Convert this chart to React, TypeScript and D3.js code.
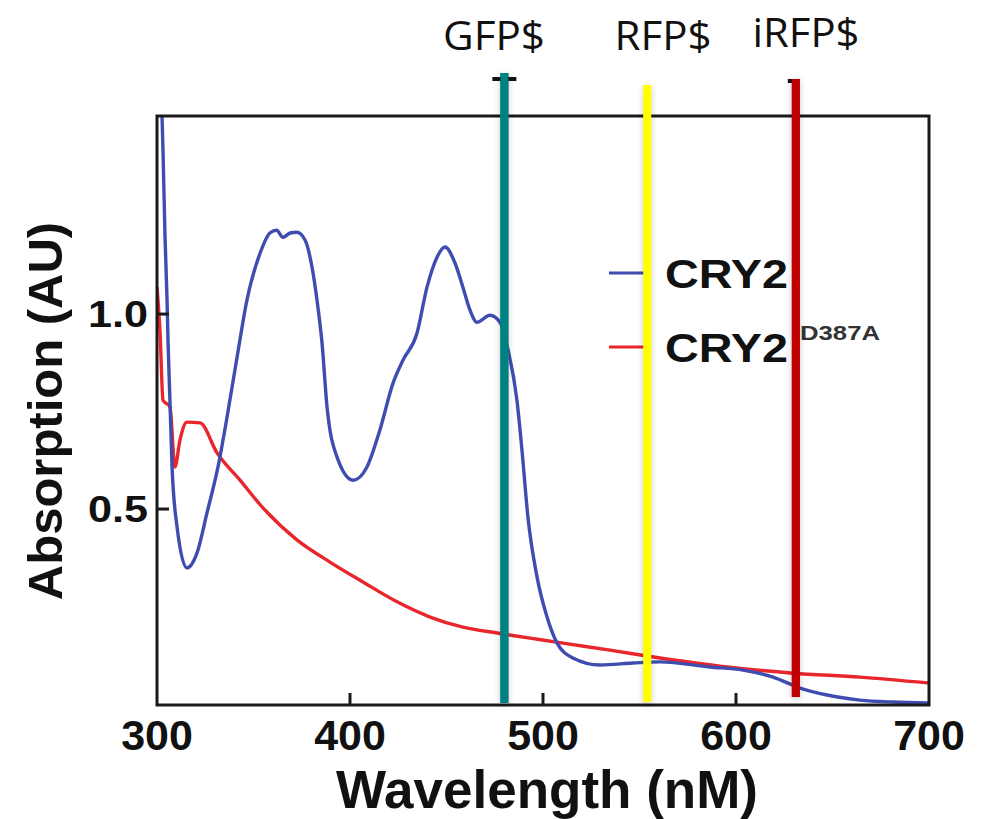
import React from "react";
import * as d3 from "d3";

// Absorption spectrum of CRY2 (wild type)
const cry2Wavelength = [302.6, 303.1, 304.1, 305.2, 305.7, 306.7, 307.8, 310.4, 315.5, 320.7, 325.9, 331.6, 336.3, 341.5, 346.6, 353.4, 358.5, 362, 365.3, 369, 372.5, 376.7, 380.3, 382.9, 385.5, 388.1, 393.3, 401.6, 408.8, 415.5, 422.3, 427.5, 434.7, 439.9, 445.1, 449.2, 454.4, 458.5, 462.2, 465.8, 472.5, 477.7, 481.9, 486.5, 489.1, 492.2, 496.9, 502.1, 507.3, 515.5, 529.5, 546.6, 560.6, 586.5, 603.6, 619.2, 633.2, 647.2, 664.2, 681.3, 699.5];
const cry2Absorption = [1.508, 1.421, 1.208, 1.036, 0.933, 0.779, 0.608, 0.454, 0.349, 0.387, 0.49, 0.608, 0.736, 0.89, 1.036, 1.156, 1.208, 1.215, 1.197, 1.208, 1.21, 1.19, 1.121, 1.036, 0.926, 0.762, 0.633, 0.574, 0.608, 0.703, 0.823, 0.882, 0.951, 1.069, 1.146, 1.172, 1.131, 1.069, 1.01, 0.979, 0.997, 0.979, 0.908, 0.779, 0.651, 0.479, 0.326, 0.223, 0.156, 0.118, 0.1, 0.105, 0.108, 0.095, 0.087, 0.069, 0.041, 0.023, 0.01, 0.005, 0.003];

// Absorption spectrum of the CRY2 D387A mutant
const mutantWavelength = [300, 301.6, 303.1, 306.7, 309.3, 311.9, 315.5, 322.3, 331.1, 343, 354.9, 372.5, 389.6, 406.7, 424.4, 441.5, 458.5, 476.2, 493.3, 510.4, 534.7, 560.6, 595.3, 629.5, 664.2, 699.5];
const mutantAbsorption = [1.069, 0.951, 0.779, 0.762, 0.608, 0.677, 0.723, 0.721, 0.644, 0.574, 0.503, 0.421, 0.364, 0.313, 0.262, 0.223, 0.197, 0.182, 0.169, 0.156, 0.138, 0.118, 0.095, 0.079, 0.069, 0.054];

// Excitation lines of the fluorescent reporters
const reporterNames = ["GFP$", "RFP$", "iRFP$"];
const reporterWavelength = [480, 554, 631];
const reporterColors = ["#008080", "#FFFF00", "#C00000"];

const xTickValues = [300, 400, 500, 600, 700];
const xTickMarks = [400, 500, 600];
const yTickValues = [0.5, 1.0];

const legendNames = ["CRY2", "CRY2"];
const legendSuperscripts = ["", "D387A"];
const seriesColors = ["#3F4DB0", "#E8262C"];

const W = 986;
const H = 819;
const frame = { left: 157, right: 929, top: 116, bottom: 705 };
// vertical extent of each reporter line (top, bottom) and its cap mark width
const reporterStyle = [
  { top: 73, bottom: 703, cap: 24, capY: 77 },
  { top: 85, bottom: 702, cap: 0, capY: 0 },
  { top: 79, bottom: 697, cap: 10, capY: 79 },
];
const labelStyle = [
  { cx: 494, y: 50, len: 102 },
  { cx: 663, y: 50, len: 97 },
  { cx: 806, y: 47, len: 107 },
];

export default function App() {
  const x = d3.scaleLinear().domain([300, 700]).range([frame.left, frame.right]);
  const y = d3.scaleLinear().domain([0, 1.508]).range([704, frame.top]);

  const line = d3
    .line<[number, number]>()
    .x((d) => x(d[0]))
    .y((d) => y(d[1]))
    .curve(d3.curveMonotoneX);

  const cry2 = cry2Wavelength.map((w, i) => [w, cry2Absorption[i]] as [number, number]);
  const mutant = mutantWavelength.map((w, i) => [w, mutantAbsorption[i]] as [number, number]);

  const boldFont = "'Liberation Sans', Arial, sans-serif";

  return (
    <svg width={W} height={H} style={{ position: "absolute", left: 0, top: 0, background: "#fff" }}>
      <defs>
        <filter id="lineShadow" x="-200%" y="-5%" width="500%" height="110%">
          <feDropShadow dx="0" dy="2" stdDeviation="3" floodColor="#000" floodOpacity="0.22" />
        </filter>
        <clipPath id="plotClip">
          <rect x={frame.left} y={frame.top} width={frame.right - frame.left} height={frame.bottom - frame.top} />
        </clipPath>
      </defs>

      {/* spectra */}
      <g clipPath="url(#plotClip)" fill="none" strokeWidth={3.4} strokeLinejoin="round">
        <path d={line(mutant) || ""} stroke={seriesColors[1]} />
        <path d={line(cry2) || ""} stroke={seriesColors[0]} />
      </g>

      {/* frame */}
      <rect
        x={frame.left}
        y={frame.top}
        width={frame.right - frame.left}
        height={frame.bottom - frame.top}
        fill="none"
        stroke="#1a1a1a"
        strokeWidth={3}
      />
      {xTickMarks.map((t) => (
        <line key={t} x1={x(t)} x2={x(t)} y1={frame.bottom} y2={frame.bottom - 12} stroke="#1a1a1a" strokeWidth={3} />
      ))}
      {yTickValues.map((t) => (
        <line key={t} x1={frame.left} x2={frame.left + 12} y1={y(t)} y2={y(t)} stroke="#1a1a1a" strokeWidth={3} />
      ))}

      {/* tick labels */}
      <g fontFamily={boldFont} fontWeight="bold" fill="#111">
        {xTickValues.map((t) => (
          <text key={t} x={x(t)} y={750} fontSize={43} textAnchor="middle">
            {t}
          </text>
        ))}
        {yTickValues.map((t) => (
          <text key={t} x={148} y={y(t) + 13} fontSize={36} textAnchor="end" textLength={60} lengthAdjust="spacingAndGlyphs">
            {t.toFixed(1)}
          </text>
        ))}
        <text x={547} y={808} fontSize={53} textAnchor="middle">
          Wavelength (nM)
        </text>
        <text transform="translate(62,411) rotate(-90)" fontSize={49} textAnchor="middle">
          Absorption (AU)
        </text>
      </g>

      {/* legend */}
      <g fontFamily={boldFont} fontWeight="bold">
        {legendNames.map((name, i) => {
          const ly = i === 0 ? 273 : 347;
          return (
            <g key={i}>
              <line x1={609} x2={646} y1={ly} y2={ly} stroke={seriesColors[i]} strokeWidth={3} />
              <text x={665} y={ly + 15} fontSize={41} fill="#111" textLength={123} lengthAdjust="spacingAndGlyphs">
                {name}
              </text>
              {legendSuperscripts[i] && (
                <text x={800} y={ly - 7} fontSize={21} fill="#333" textLength={80} lengthAdjust="spacingAndGlyphs">
                  {legendSuperscripts[i]}
                </text>
              )}
            </g>
          );
        })}
      </g>

      {/* reporter excitation lines */}
      {reporterNames.map((name, i) => {
        const s = reporterStyle[i];
        const cx = x(reporterWavelength[i]);
        return (
          <g key={name}>
            <rect
              x={cx - 4}
              y={s.top}
              width={8}
              height={s.bottom - s.top}
              fill={reporterColors[i]}
              filter="url(#lineShadow)"
            />
            {s.cap > 0 && (
              <rect x={i === 2 ? cx - s.cap + 2 : cx - s.cap / 2} y={s.capY} width={s.cap} height={4} fill="#111" />
            )}
            {s.cap > 0 && <rect x={cx - 4} y={s.top} width={8} height={s.bottom - s.top} fill={reporterColors[i]} />}
          </g>
        );
      })}
      <g fontFamily="'Open Sans', 'Noto Sans', sans-serif" fill="#111">
        {reporterNames.map((name, i) => {
          const l = labelStyle[i];
          return (
            <text
              key={name}
              x={l.cx - l.len / 2}
              y={l.y}
              fontSize={40}
              textLength={l.len}
              lengthAdjust="spacingAndGlyphs"
            >
              {name}
            </text>
          );
        })}
      </g>
    </svg>
  );
}
